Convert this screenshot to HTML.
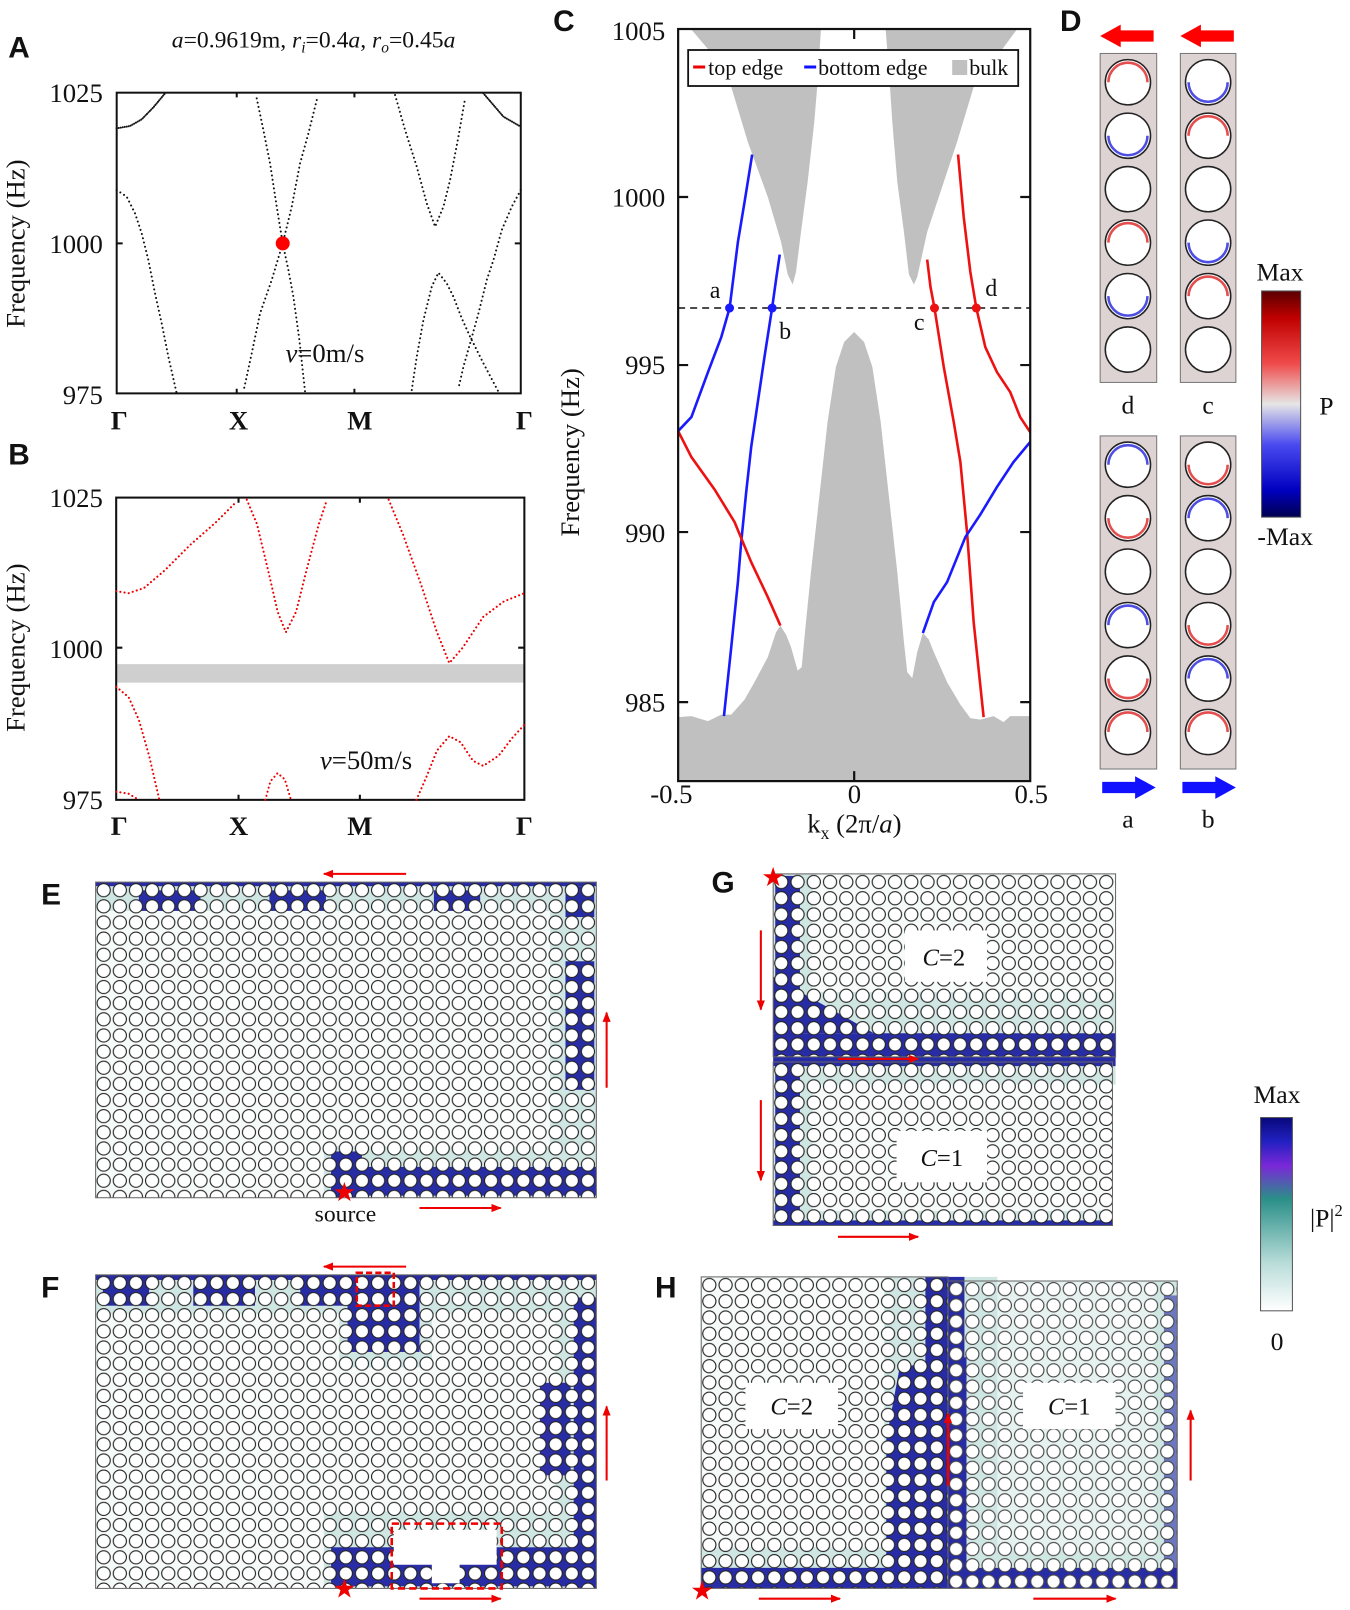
<!DOCTYPE html>
<html><head><meta charset="utf-8"><style>
html,body{margin:0;padding:0;background:#fff;}
svg{display:block;}
text{font-family:"Liberation Serif",serif;fill:#111;}
.lt{font-family:"Liberation Sans",sans-serif;font-weight:bold;font-size:29px;}
</style></head><body>
<svg width="1350" height="1610" viewBox="0 0 1313 1566" preserveAspectRatio="none" xmlns="http://www.w3.org/2000/svg">
<defs>
<linearGradient id="cbD" x1="0" y1="0" x2="0" y2="1">
<stop offset="0" stop-color="#5a0000"/><stop offset="0.12" stop-color="#c00000"/><stop offset="0.32" stop-color="#f04a4a"/><stop offset="0.5" stop-color="#e6e6e6"/><stop offset="0.68" stop-color="#4a4af0"/><stop offset="0.88" stop-color="#0000c0"/><stop offset="1" stop-color="#000050"/>
</linearGradient>
<linearGradient id="cbP" x1="0" y1="0" x2="0" y2="1">
<stop offset="0" stop-color="#08087a"/><stop offset="0.12" stop-color="#2020c0"/><stop offset="0.25" stop-color="#7a28d8"/><stop offset="0.42" stop-color="#2a8f88"/><stop offset="0.75" stop-color="#b8dcd8"/><stop offset="1" stop-color="#ffffff"/>
</linearGradient>
<pattern id="pE" patternUnits="userSpaceOnUse" x="93" y="858" width="15.7" height="15.7"><circle cx="7.85" cy="7.85" r="6.4" fill="#fff" stroke="#222" stroke-width="1.1"/></pattern>
<pattern id="pF" patternUnits="userSpaceOnUse" x="93" y="1240" width="15.7" height="15.7"><circle cx="7.85" cy="7.85" r="6.4" fill="#fff" stroke="#222" stroke-width="1.1"/></pattern>
<pattern id="pG1" patternUnits="userSpaceOnUse" x="752" y="850" width="15.8" height="15.8"><circle cx="7.9" cy="7.9" r="6.4" fill="#fff" stroke="#222" stroke-width="1.1"/></pattern>
<pattern id="pG2" patternUnits="userSpaceOnUse" x="752" y="1033" width="15.8" height="15.8"><circle cx="7.9" cy="7.9" r="6.4" fill="#fff" stroke="#222" stroke-width="1.1"/></pattern>
<pattern id="pH1" patternUnits="userSpaceOnUse" x="682" y="1242" width="15.8" height="15.8"><circle cx="7.9" cy="7.9" r="6.4" fill="#fff" stroke="#222" stroke-width="1.1"/></pattern>
<pattern id="pH2" patternUnits="userSpaceOnUse" x="922" y="1246" width="15.8" height="15.8"><circle cx="7.9" cy="7.9" r="6.4" fill="#fff" stroke="#444" stroke-width="1.1"/></pattern>
<marker id="ar" markerWidth="10" markerHeight="8" refX="9" refY="4" orient="auto" markerUnits="userSpaceOnUse"><path d="M0,0 L10,4 L0,8 Z" fill="#e00"/></marker>
</defs>

<!-- Panel letters -->
<text class="lt" x="8" y="56">A</text>
<text class="lt" x="8" y="452">B</text>
<text class="lt" x="538" y="30">C</text>
<text class="lt" x="1031" y="30">D</text>
<text class="lt" x="40" y="880">E</text>
<text class="lt" x="40" y="1262">F</text>
<text class="lt" x="692" y="868">G</text>
<text class="lt" x="637" y="1262">H</text>

<!-- Title A -->
<text x="305" y="46" font-size="23" text-anchor="middle"><tspan font-style="italic">a</tspan>=0.9619m, <tspan font-style="italic">r</tspan><tspan font-size="15" dy="5" font-style="italic">i</tspan><tspan dy="-5">=0.4</tspan><tspan font-style="italic">a</tspan>, <tspan font-style="italic">r</tspan><tspan font-size="15" dy="5" font-style="italic">o</tspan><tspan dy="-5">=0.45</tspan><tspan font-style="italic">a</tspan></text>

<!-- ===== Panel A (zoom frame) ===== -->
<g transform="scale(0.9728) translate(100,80) scale(0.33333)">
<rect x="50" y="38" width="1212" height="902" fill="none" stroke="#111" stroke-width="6"/>
<path d="M410,38v14M763,38v14M410,940v-14M763,940v-14M50,490h18M1262,490h-18" stroke="#111" stroke-width="6"/>
<g fill="none" stroke="#111" stroke-width="6" stroke-linecap="round" stroke-dasharray="0.1 6">
<polyline points="50,145 90,138 125,118 160,82 195,40"/>
<polyline points="1150,40 1180,75 1210,110 1262,140"/>
</g>
<g fill="none" stroke="#111" stroke-width="6" stroke-linecap="round" stroke-dasharray="0.1 13">
<polyline points="50,330 80,350 105,400 125,460 145,540 165,640 185,730 205,830 230,940"/>
<polyline points="470,55 490,150 510,250 530,380 548,490 565,570 580,650 598,780 615,935"/>
<polyline points="650,60 625,160 600,250 575,380 548,490 515,600 480,700 455,820 430,935"/>
<polyline points="885,45 915,150 950,260 980,370 1005,440 1030,380 1050,300 1075,170 1095,55"/>
<polyline points="935,930 950,830 970,720 995,620 1015,578 1040,610 1060,650 1085,715 1110,770 1150,850 1195,935"/>
<polyline points="1262,330 1235,380 1205,450 1180,540 1160,600 1135,700 1110,790 1090,860 1075,925"/>
</g>
<circle cx="548" cy="490" r="21" fill="#f00"/>
</g>
<text x="316" y="352" font-size="26" text-anchor="middle"><tspan font-style="italic">v</tspan>=0m/s</text>
<g font-size="26" text-anchor="end">
<text x="100" y="99">1025</text><text x="100" y="246">1000</text><text x="100" y="393">975</text>
<text x="100" y="493">1025</text><text x="100" y="640">1000</text><text x="100" y="787">975</text>
</g>
<text transform="translate(24,237) rotate(-90)" font-size="26" text-anchor="middle">Frequency (Hz)</text>
<text transform="translate(24,630) rotate(-90)" font-size="26" text-anchor="middle">Frequency (Hz)</text>
<g font-size="26" font-weight="bold" text-anchor="middle">
<text x="116" y="418">Γ</text><text x="232" y="418">X</text><text x="350" y="418">M</text><text x="510" y="418">Γ</text>
<text x="116" y="812">Γ</text><text x="232" y="812">X</text><text x="350" y="812">M</text><text x="510" y="812">Γ</text>
</g>

<!-- ===== Panel B ===== -->
<rect x="113" y="646" width="397" height="18" fill="#cfcfcf"/>
<rect x="113" y="484" width="397" height="294" fill="none" stroke="#111" stroke-width="2"/>
<path d="M232,484v5M350,484v5M232,778v-5M350,778v-5M113,630h6M510,630h-6" stroke="#111" stroke-width="2"/>
<g fill="none" stroke="#e00" stroke-width="2" stroke-linecap="round" stroke-dasharray="0.1 4">
<polyline points="113,575 125,577 140,572 160,555 185,530 210,508 230,488"/>
<polyline points="240,486 250,510 262,560 270,595 278,615 288,595 298,555 310,510 318,486"/>
<polyline points="378,486 392,520 410,570 425,615 437,645 450,630 470,600 490,585 510,577"/>
<polyline points="113,668 125,678 135,700 145,735 155,778"/>
<polyline points="258,778 263,760 270,752 277,758 283,778"/>
<polyline points="405,778 415,755 425,730 437,716 448,722 460,740 470,745 485,735 498,718 510,705"/>
<polyline points="113,770 125,772 135,778"/>
</g>
<text x="356" y="748" font-size="26" text-anchor="middle"><tspan font-style="italic">v</tspan>=50m/s</text>

<!-- ===== Panel C (zoom frame -> real) ===== -->
<g transform="scale(0.9728)">
<g transform="translate(581.7,22) scale(0.332,0.5)">
<path d="M330,15 L720,15 L710,120 L700,200 L680,320 L660,420 L645,500 L635,525 L620,505 L600,440 L560,350 L500,240 L450,130 L400,70 Z" fill="#c0c0c0"/>
<path d="M915,15 L1310,15 L1260,60 L1180,130 L1130,240 L1080,340 L1040,420 L1010,510 L1000,525 L985,505 L970,420 L950,320 L935,200 L925,100 Z" fill="#c0c0c0"/>
<path d="M290,1390 L330,1388 L380,1398 L420,1385 L450,1385 L490,1355 L520,1320 L560,1270 L585,1220 L598,1207 L615,1225 L630,1250 L650,1297 L662,1290 L675,1200 L690,1100 L715,950 L740,800 L765,690 L790,640 L820,620 L850,640 L875,690 L900,800 L925,950 L950,1100 L970,1240 L980,1300 L995,1312 L1010,1260 L1027,1222 L1045,1235 L1060,1260 L1100,1320 L1140,1365 L1170,1392 L1200,1395 L1240,1388 L1270,1400 L1290,1388 L1350,1388 L1350,1518 L290,1518 Z" fill="#c0c0c0"/>
<g fill="none" stroke-width="2.6" vector-effect="non-scaling-stroke">
<polyline vector-effect="non-scaling-stroke" stroke="#1a1aff" points="290,818 330,790 380,700 420,630 445,572 470,440 490,360 513,265"/>
<polyline vector-effect="non-scaling-stroke" stroke="#1a1aff" points="428,1388 450,1250 470,1120 480,1040 495,940 510,850 530,760 550,670 573,572 586,510 596,465"/>
<polyline vector-effect="non-scaling-stroke" stroke="#ee1111" points="290,818 330,870 400,935 460,1000 510,1080 560,1150 598,1207"/>
<polyline vector-effect="non-scaling-stroke" stroke="#ee1111" points="1040,475 1050,530 1062,572 1090,690 1120,800 1140,880 1160,1020 1180,1200 1210,1390"/>
<polyline vector-effect="non-scaling-stroke" stroke="#ee1111" points="1133,265 1150,390 1170,500 1188,572 1215,650 1250,700 1290,740 1320,790 1350,820"/>
<polyline vector-effect="non-scaling-stroke" stroke="#1a1aff" points="1027,1222 1060,1160 1100,1120 1155,1030 1200,985 1250,930 1300,880 1350,840"/>
</g>
</g>
<rect x="678" y="29" width="352" height="752" fill="none" stroke="#111" stroke-width="2.2"/>
<path d="M678,197h10M678,365h10M678,532h10M678,702h10M1030,197h-10M1030,365h-10M1030,532h-10M1030,702h-10M854,29v10M854,781v-10" stroke="#111" stroke-width="2.2"/>
<line x1="678" y1="308" x2="1030" y2="308" stroke="#111" stroke-width="1.5" stroke-dasharray="7 5"/>
<circle cx="729.4" cy="308" r="4.5" fill="#1a1aff"/><circle cx="772" cy="308" r="4.5" fill="#1a1aff"/>
<circle cx="934.3" cy="308" r="4.5" fill="#ee1111"/><circle cx="976.1" cy="308" r="4.5" fill="#ee1111"/>
<g font-size="24" text-anchor="middle">
<text x="715" y="298">a</text><text x="785" y="339">b</text><text x="919" y="330">c</text><text x="991" y="296">d</text>
</g>
<rect x="688" y="50" width="330" height="36" fill="#fff" stroke="#111" stroke-width="1.8"/>
<line x1="693" y1="67" x2="705" y2="67" stroke="#e00" stroke-width="3"/>
<text x="708" y="75" font-size="22">top edge</text>
<line x1="804" y1="67" x2="816" y2="67" stroke="#11f" stroke-width="3"/>
<text x="818" y="75" font-size="22">bottom edge</text>
<rect x="952" y="60" width="15" height="15" fill="#c0c0c0"/>
<text x="969" y="75" font-size="22">bulk</text>
</g>
<g font-size="26" text-anchor="end">
<text x="647" y="39">1005</text><text x="647" y="201">1000</text><text x="647" y="364">995</text><text x="647" y="527">990</text><text x="647" y="692">985</text>
</g>
<g font-size="26" text-anchor="middle">
<text x="653" y="781">-0.5</text><text x="831" y="781">0</text><text x="1003" y="781">0.5</text>
</g>
<text x="831" y="810" font-size="26" text-anchor="middle">k<tspan font-size="17" dy="6">x</tspan><tspan dy="-6"> (2π/</tspan><tspan font-style="italic">a</tspan>)</text>
<text transform="translate(563,440) rotate(-90)" font-size="26" text-anchor="middle">Frequency (Hz)</text>

<!-- ===== Panel D ===== -->
<g>
<rect x="1070" y="52" width="55" height="320" fill="#ddd3d3" stroke="#777"/>
<rect x="1148" y="52" width="54" height="320" fill="#ddd3d3" stroke="#777"/>
<rect x="1070" y="424" width="55" height="324" fill="#ddd3d3" stroke="#777"/>
<rect x="1148" y="424" width="54" height="324" fill="#ddd3d3" stroke="#777"/>
<g fill="#fff" stroke="#222" stroke-width="1.5">
<circle cx="1097" cy="80" r="22"/><circle cx="1097" cy="132" r="22"/><circle cx="1097" cy="184" r="22"/><circle cx="1097" cy="236" r="22"/><circle cx="1097" cy="288" r="22"/><circle cx="1097" cy="340" r="22"/>
<circle cx="1175" cy="80" r="22"/><circle cx="1175" cy="132" r="22"/><circle cx="1175" cy="184" r="22"/><circle cx="1175" cy="236" r="22"/><circle cx="1175" cy="288" r="22"/><circle cx="1175" cy="340" r="22"/>
<circle cx="1097" cy="452" r="22"/><circle cx="1097" cy="504" r="22"/><circle cx="1097" cy="556" r="22"/><circle cx="1097" cy="608" r="22"/><circle cx="1097" cy="660" r="22"/><circle cx="1097" cy="712" r="22"/>
<circle cx="1175" cy="452" r="22"/><circle cx="1175" cy="504" r="22"/><circle cx="1175" cy="556" r="22"/><circle cx="1175" cy="608" r="22"/><circle cx="1175" cy="660" r="22"/><circle cx="1175" cy="712" r="22"/>
</g>
<g fill="none" stroke-width="2.5" opacity="0.8">
<path d="M1078,80a19,19 0 0 1 38,0M1078,236a19,19 0 0 1 38,0M1156,132a19,19 0 0 1 38,0M1156,288a19,19 0 0 1 38,0M1078,504a19,19 0 0 0 38,0M1156,452a19,19 0 0 0 38,0M1078,660a19,19 0 0 0 38,0M1156,608a19,19 0 0 0 38,0M1078,712a19,19 0 0 1 38,0M1156,712a19,19 0 0 1 38,0" stroke="#d22"/>
<path d="M1078,132a19,19 0 0 0 38,0M1078,288a19,19 0 0 0 38,0M1156,80a19,19 0 0 0 38,0M1156,236a19,19 0 0 0 38,0M1078,452a19,19 0 0 1 38,0M1156,504a19,19 0 0 1 38,0M1078,608a19,19 0 0 1 38,0M1156,660a19,19 0 0 1 38,0" stroke="#22d"/>
</g>
<path d="M1122,35 H1086 M1200,35 H1164" stroke="#f00" stroke-width="11"/>
<path d="M1070,35 L1090,24 L1090,46 Z M1148,35 L1168,24 L1168,46 Z" fill="#f00"/>
<path d="M1072,766 H1106 M1150,766 H1184" stroke="#11f" stroke-width="11"/>
<path d="M1124,766 L1104,755 L1104,777 Z M1202,766 L1182,755 L1182,777 Z" fill="#11f"/>
<g font-size="25" text-anchor="middle">
<text x="1097" y="402">d</text><text x="1175" y="402">c</text><text x="1097" y="805">a</text><text x="1175" y="805">b</text>
</g>
<rect x="1227" y="283" width="38" height="220" fill="url(#cbD)" stroke="#555"/>
<text x="1245" y="273" font-size="25" text-anchor="middle">Max</text>
<text x="1290" y="403" font-size="25" text-anchor="middle">P</text>
<text x="1250" y="530" font-size="25" text-anchor="middle">-Max</text>
</g>

<!-- ===== Panel E ===== -->
<rect x="93" y="858" width="487" height="307" fill="#f6fbfa"/>
<g fill="#cfe6e3">
<rect x="93" y="858" width="487" height="28"/><rect x="535" y="858" width="45" height="307"/><rect x="315" y="1115" width="265" height="50"/>
</g>
<g fill="#0c0c9a" opacity="0.85">
<rect x="93" y="858" width="487" height="4"/><rect x="135" y="866" width="60" height="20"/><rect x="262" y="866" width="55" height="20"/><rect x="422" y="866" width="45" height="20"/>
<rect x="550" y="935" width="28" height="125"/><rect x="550" y="862" width="28" height="30"/><rect x="322" y="1135" width="258" height="28"/><rect x="322" y="1120" width="30" height="45"/>
</g>
<rect x="93" y="858" width="487" height="307" fill="url(#pE)" stroke="#666"/>
<line x1="395" y1="850" x2="315" y2="850" stroke="#e00" stroke-width="2" marker-end="url(#ar)"/>
<line x1="590" y1="1058" x2="590" y2="985" stroke="#e00" stroke-width="2" marker-end="url(#ar)"/>
<line x1="408" y1="1175" x2="487" y2="1175" stroke="#e00" stroke-width="2" marker-end="url(#ar)"/>
<text x="335" y="1168" font-size="26" text-anchor="middle" style="fill:#e00">★</text>
<text x="336" y="1188" font-size="23" text-anchor="middle">source</text>

<!-- ===== Panel F ===== -->
<rect x="93" y="1240" width="487" height="305" fill="#f6fbfa"/>
<g fill="#cfe6e3">
<rect x="93" y="1240" width="487" height="38"/><rect x="540" y="1240" width="40" height="305"/><rect x="315" y="1470" width="265" height="75"/><rect x="330" y="1240" width="90" height="90"/>
</g>
<g fill="#0c0c9a" opacity="0.85">
<rect x="93" y="1240" width="487" height="5"/><rect x="100" y="1245" width="45" height="25"/><rect x="188" y="1245" width="60" height="25"/><rect x="292" y="1245" width="55" height="25"/>
<rect x="338" y="1245" width="70" height="70"/><rect x="558" y="1262" width="22" height="283"/><rect x="322" y="1505" width="258" height="38"/><rect x="525" y="1345" width="30" height="90"/>
</g>
<rect x="93" y="1240" width="487" height="305" fill="url(#pF)" stroke="#666"/>
<path d="M383,1488 H483 V1522 H447 V1540 H420 V1522 H383 Z" fill="#fff"/>
<rect x="381" y="1482" width="107" height="63" fill="none" stroke="#e00" stroke-width="2.5" stroke-dasharray="7 4"/>
<rect x="347" y="1238" width="36" height="32" fill="none" stroke="#e00" stroke-width="2.5" stroke-dasharray="6 3"/>
<line x1="395" y1="1232" x2="315" y2="1232" stroke="#e00" stroke-width="2" marker-end="url(#ar)"/>
<line x1="590" y1="1440" x2="590" y2="1368" stroke="#e00" stroke-width="2" marker-end="url(#ar)"/>
<line x1="408" y1="1555" x2="487" y2="1555" stroke="#e00" stroke-width="2" marker-end="url(#ar)"/>
<text x="335" y="1554" font-size="26" text-anchor="middle" style="fill:#e00">★</text>

<!-- ===== Panel G ===== -->
<rect x="752" y="850" width="333" height="178" fill="#f6fbfa"/>
<rect x="752" y="1033" width="330" height="159" fill="#f6fbfa"/>
<g fill="#cfe6e3"><rect x="752" y="965" width="333" height="90"/><rect x="752" y="850" width="38" height="342"/><rect x="752" y="1178" width="330" height="14"/></g>
<g fill="#0c0c9a" opacity="0.85">
<rect x="754" y="852" width="24" height="340"/><rect x="752" y="1005" width="333" height="32"/><path d="M752,950 L850,1005 L752,1005 Z"/><rect x="752" y="1187" width="330" height="5"/>
</g>
<rect x="752" y="850" width="333" height="178" fill="url(#pG1)" stroke="#666"/>
<rect x="752" y="1033" width="330" height="159" fill="url(#pG2)" stroke="#666"/>
<rect x="880" y="905" width="80" height="50" fill="#fff"/>
<rect x="872" y="1100" width="88" height="50" fill="#fff"/>
<text x="918" y="939" font-size="24" text-anchor="middle"><tspan font-style="italic">C</tspan>=2</text>
<text x="916" y="1134" font-size="24" text-anchor="middle"><tspan font-style="italic">C</tspan>=1</text>
<line x1="740" y1="905" x2="740" y2="982" stroke="#e00" stroke-width="2" marker-end="url(#ar)"/>
<line x1="740" y1="1070" x2="740" y2="1148" stroke="#e00" stroke-width="2" marker-end="url(#ar)"/>
<line x1="815" y1="1030" x2="893" y2="1030" stroke="#e00" stroke-width="2" marker-end="url(#ar)"/>
<line x1="815" y1="1203" x2="893" y2="1203" stroke="#e00" stroke-width="2" marker-end="url(#ar)"/>
<text x="752" y="862" font-size="26" text-anchor="middle" style="fill:#e00">★</text>

<!-- ===== Panel H ===== -->
<rect x="682" y="1242" width="240" height="303" fill="#f6fbfa"/>
<rect x="922" y="1246" width="223" height="299" fill="#e6f2f0"/>
<g fill="#cfe6e3"><rect x="860" y="1242" width="110" height="303"/><rect x="682" y="1505" width="463" height="40"/><rect x="1122" y="1246" width="23" height="299"/></g>
<g fill="#0c0c9a" opacity="0.85">
<rect x="900" y="1242" width="38" height="303"/><path d="M875,1330 L940,1320 L940,1545 L862,1545 L862,1400 Z"/><rect x="682" y="1525" width="463" height="20"/><rect x="1132" y="1260" width="13" height="285" opacity="0.6"/>
</g>
<rect x="682" y="1242" width="240" height="303" fill="url(#pH1)" stroke="#666"/>
<rect x="922" y="1246" width="223" height="299" fill="url(#pH2)" stroke="#666"/>
<rect x="725" y="1345" width="90" height="45" fill="#fff"/>
<rect x="995" y="1345" width="90" height="45" fill="#fff"/>
<text x="770" y="1376" font-size="24" text-anchor="middle"><tspan font-style="italic">C</tspan>=2</text>
<text x="1040" y="1376" font-size="24" text-anchor="middle"><tspan font-style="italic">C</tspan>=1</text>
<line x1="922" y1="1445" x2="922" y2="1375" stroke="#e00" stroke-width="2.5" marker-end="url(#ar)"/>
<line x1="1158" y1="1440" x2="1158" y2="1372" stroke="#e00" stroke-width="2" marker-end="url(#ar)"/>
<line x1="738" y1="1555" x2="817" y2="1555" stroke="#e00" stroke-width="2" marker-end="url(#ar)"/>
<line x1="1005" y1="1555" x2="1085" y2="1555" stroke="#e00" stroke-width="2" marker-end="url(#ar)"/>
<text x="683" y="1556" font-size="26" text-anchor="middle" style="fill:#e00">★</text>

<!-- Colorbar |P|^2 -->
<rect x="1226" y="1087" width="31" height="188" fill="url(#cbP)" stroke="#555"/>
<text x="1242" y="1073" font-size="25" text-anchor="middle">Max</text>
<text x="1290" y="1193" font-size="25" text-anchor="middle">|P|<tspan font-size="16" dy="-10">2</tspan></text>
<text x="1242" y="1313" font-size="25" text-anchor="middle">0</text>
</svg>
</body></html>
